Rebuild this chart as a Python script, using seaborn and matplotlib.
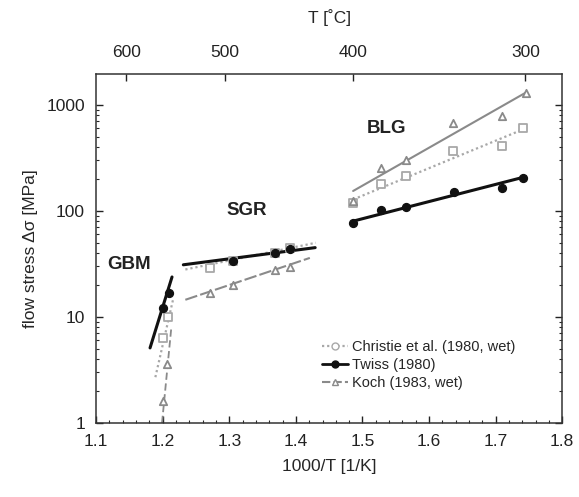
import numpy as np
import pandas as pd
import matplotlib
matplotlib.use("Agg")
import matplotlib.pyplot as plt
import seaborn as sns
from matplotlib.ticker import NullFormatter, MultipleLocator, LogLocator
from matplotlib.lines import Line2D

# ---------------- data ----------------
# Twiss (1980)
twiss_gbm_x = [1.201, 1.209]
twiss_gbm_y = [12.2, 16.8]
twiss_sgr_x = [1.306, 1.369, 1.391]
twiss_sgr_y = [34, 40, 44]
twiss_blg_x = [1.486, 1.528, 1.566, 1.638, 1.710, 1.741]
twiss_blg_y = [76, 102, 109, 151, 165, 205]
twiss_fit_gbm_x = [1.181, 1.214]
twiss_fit_gbm_y = [5.1, 23.8]
twiss_fit_sgr_x = [1.231, 1.429]
twiss_fit_sgr_y = [31, 45]
twiss_fit_blg_x = [1.486, 1.745]
twiss_fit_blg_y = [80, 210]

# Christie et al. (1980, wet)
christie_gbm_x = [1.201, 1.208]
christie_gbm_y = [6.3, 10]
christie_sgr_x = [1.271, 1.306, 1.369, 1.391]
christie_sgr_y = [29, 34, 40, 45]
christie_blg_x = [1.486, 1.528, 1.566, 1.636, 1.710, 1.741]
christie_blg_y = [118, 180, 212, 368, 410, 600]
christie_fit_gbm_x = [1.189, 1.216]
christie_fit_gbm_y = [2.7, 15]
christie_fit_sgr_x = [1.234, 1.43]
christie_fit_sgr_y = [28, 50]
christie_fit_blg_x = [1.486, 1.745]
christie_fit_blg_y = [128, 600]

# Koch (1983, wet)
koch_gbm_x = [1.200, 1.206]
koch_gbm_y = [1.6, 3.6]
koch_sgr_x = [1.271, 1.306, 1.369, 1.391]
koch_sgr_y = [16.8, 20, 27.8, 29.6]
koch_blg_x = [1.486, 1.528, 1.566, 1.636, 1.710, 1.745]
koch_blg_y = [125, 255, 303, 676, 787, 1300]
koch_fit_gbm_x = [1.199, 1.213]
koch_fit_gbm_y = [1.0, 8.0]
koch_fit_sgr_x = [1.234, 1.421]
koch_fit_sgr_y = [14.5, 36]
koch_fit_blg_x = [1.486, 1.745]
koch_fit_blg_y = [154, 1300]

x_ticks = [1.1, 1.2, 1.3, 1.4, 1.5, 1.6, 1.7, 1.8]
y_ticks = [1, 10, 100, 1000]
top_ticks_C = [600, 500, 400, 300]
regime_labels = ["GBM", "SGR", "BLG"]
regime_pos = [(1.117, 31), (1.296, 100), (1.506, 600)]

# ---------------- style ----------------
sns.set_style("ticks")
plt.rcParams['font.family'] = ['Liberation Sans', 'DejaVu Sans']
plt.rcParams['xtick.direction'] = 'in'
plt.rcParams['ytick.direction'] = 'in'

fig = plt.figure(figsize=(5.79, 4.97), dpi=100)
ax = fig.add_axes([0.166, 0.149, 0.805, 0.702])

c_tw = "#111111"
c_ch = "#a8a8a8"
c_ko = "#8a8a8a"

def fit(xs, ys, color, ls, lw):
    sns.lineplot(x=xs, y=ys, ax=ax, color=color, linestyle=ls, linewidth=lw,
                 estimator=None, sort=False, legend=False)

def pts(xs, ys, color, marker, filled, size):
    if filled:
        sns.scatterplot(x=xs, y=ys, ax=ax, color=color, marker=marker, s=size,
                        edgecolor=color, linewidth=1.0, legend=False, zorder=5)
    else:
        sns.scatterplot(x=xs, y=ys, ax=ax, marker=marker, s=size, facecolor="white",
                        edgecolor=color, linewidth=1.3, legend=False, zorder=5)

# Christie
for fx, fy in [(christie_fit_gbm_x, christie_fit_gbm_y), (christie_fit_sgr_x, christie_fit_sgr_y),
               (christie_fit_blg_x, christie_fit_blg_y)]:
    fit(fx, fy, c_ch, (0, (1, 1.3)), 1.6)
for px, py in [(christie_gbm_x, christie_gbm_y), (christie_sgr_x, christie_sgr_y),
               (christie_blg_x, christie_blg_y)]:
    pts(px, py, c_ch, "s", False, 30)

# Koch
fit(koch_fit_gbm_x, koch_fit_gbm_y, c_ko, (0, (4, 2)), 1.3)
fit(koch_fit_sgr_x, koch_fit_sgr_y, c_ko, (0, (6, 1.5)), 1.5)
fit(koch_fit_blg_x, koch_fit_blg_y, c_ko, "-", 1.5)
for px, py in [(koch_gbm_x, koch_gbm_y), (koch_sgr_x, koch_sgr_y), (koch_blg_x, koch_blg_y)]:
    pts(px, py, c_ko, "^", False, 28)

# Twiss
for fx, fy in [(twiss_fit_gbm_x, twiss_fit_gbm_y), (twiss_fit_sgr_x, twiss_fit_sgr_y),
               (twiss_fit_blg_x, twiss_fit_blg_y)]:
    fit(fx, fy, c_tw, "-", 2.2)
for px, py in [(twiss_gbm_x, twiss_gbm_y), (twiss_sgr_x, twiss_sgr_y), (twiss_blg_x, twiss_blg_y)]:
    pts(px, py, c_tw, "o", True, 32)

ax.set_yscale("log")
ax.set_xlim(1.1, 1.8)
ax.set_ylim(1, 1950)
ax.set_xticks(x_ticks)
ax.set_xticklabels([f"{v:.1f}" for v in x_ticks], fontsize=12.5)
ax.xaxis.set_minor_locator(MultipleLocator(0.02))
ax.set_yticks(y_ticks)
ax.set_yticklabels([str(v) for v in y_ticks], fontsize=12.5)
ax.yaxis.set_minor_locator(LogLocator(base=10, subs=np.arange(2, 10)))
ax.yaxis.set_minor_formatter(NullFormatter())
ax.tick_params(which="major", length=5, width=1, top=False, right=True, pad=8, colors="#222222")
ax.tick_params(which="minor", length=2.5, width=0.8, top=False, right=True)
for s in ax.spines.values():
    s.set_linewidth(1.1)
    s.set_color("#333333")

ax.set_xlabel("1000/T [1/K]", fontsize=12.5, labelpad=7)
ax.set_ylabel("flow stress Δσ [MPa]", fontsize=12.5, labelpad=6)

# top axis in °C
top = ax.twiny()
top.set_xlim(ax.get_xlim())
top.set_xticks([1000.0 / (c + 273.15) for c in top_ticks_C])
top.set_xticklabels([str(c) for c in top_ticks_C], fontsize=12.5)
top.tick_params(direction="in", length=5, width=1, pad=10, colors="#222222")
top.set_xlabel("T [˚C]", fontsize=12.5, labelpad=16)
for s in top.spines.values():
    s.set_visible(False)

for lab, (lx, ly) in zip(regime_labels, regime_pos):
    ax.text(lx, ly, lab, fontsize=13.5, fontweight="bold", color="#222222",
            ha="left", va="center")

handles = [
    Line2D([], [], color=c_ch, linestyle=(0, (1, 1.3)), linewidth=1.6, marker="o",
           markerfacecolor="white", markeredgecolor=c_ch, markersize=5),
    Line2D([], [], color=c_tw, linestyle="-", linewidth=2.0, marker="o",
           markerfacecolor=c_tw, markeredgecolor=c_tw, markersize=5),
    Line2D([], [], color=c_ko, linestyle=(0, (4, 1.5)), linewidth=1.5, marker="^",
           markerfacecolor="white", markeredgecolor=c_ko, markersize=5),
]
ax.legend(handles, ["Christie et al. (1980, wet)", "Twiss (1980)", "Koch (1983, wet)"],
          loc="lower left", bbox_to_anchor=(0.462, 0.066), frameon=False, fontsize=10.5,
          handlelength=1.8, handletextpad=0.3, labelspacing=0.25, borderpad=0.2)

fig.savefig("out.png", dpi=100)
